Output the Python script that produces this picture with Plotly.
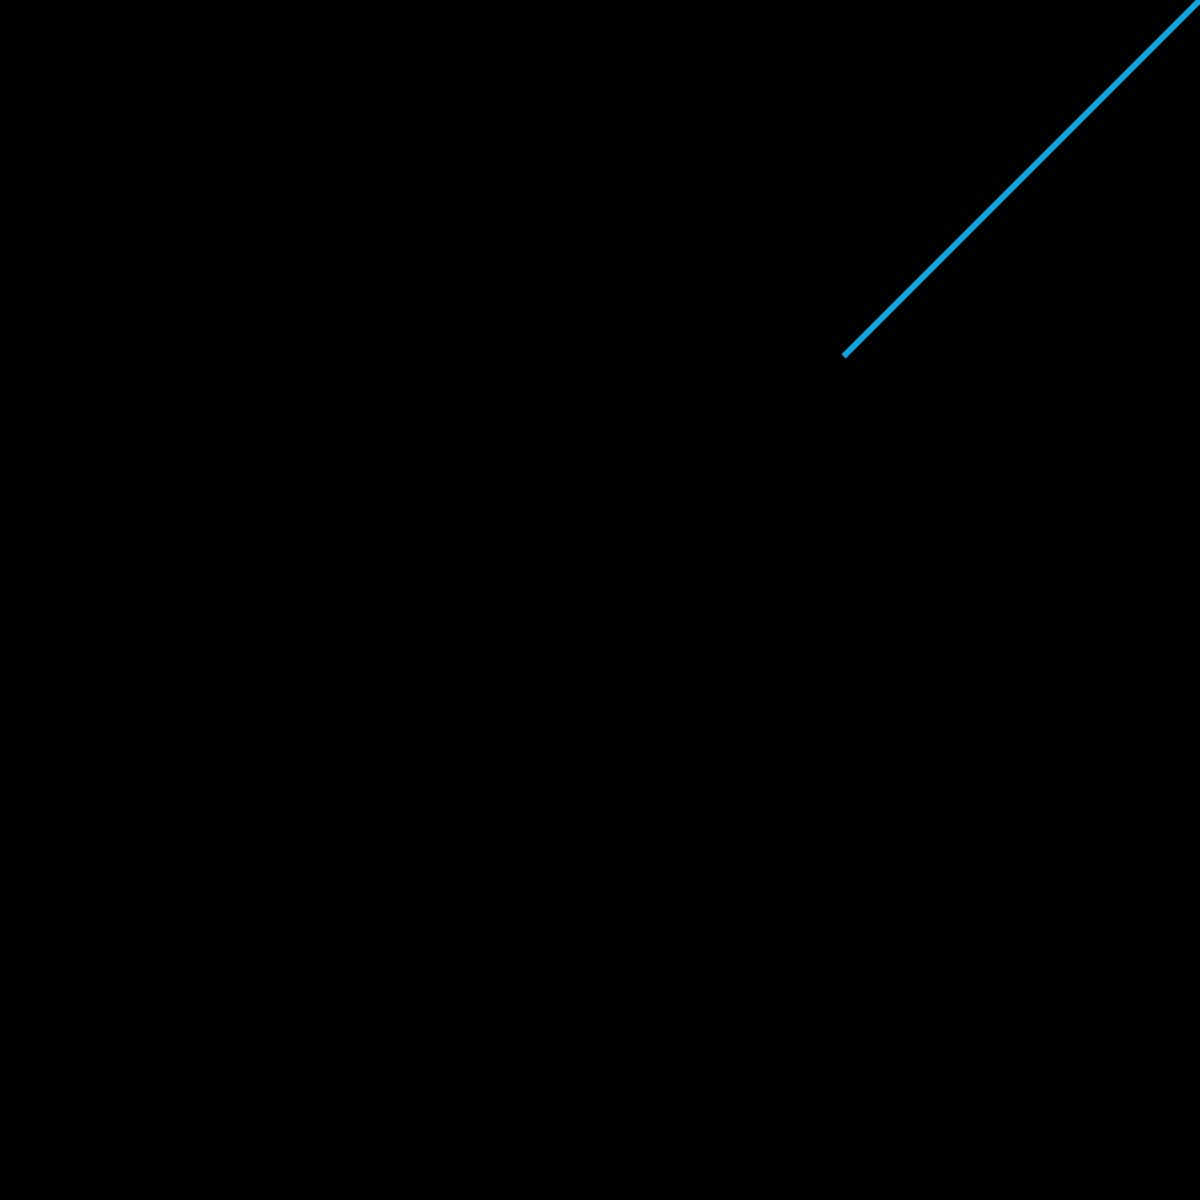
import plotly.graph_objects as go

# one straight segment on a blank black canvas
line_x = [0.703, 1.0]
line_y = [0.703, 1.0]

LINE_COLOR = "#0fa6dd"
BG = "#000000"

fig = go.Figure()
fig.add_trace(
    go.Scatter(
        x=line_x,
        y=line_y,
        mode="lines",
        line={"color": LINE_COLOR, "width": 6},
        hoverinfo="skip",
        showlegend=False,
    )
)

axis = {
    "range": [0, 1],
    "visible": False,
    "showgrid": False,
    "zeroline": False,
    "fixedrange": True,
}
fig.update_layout(
    width=1200,
    height=1200,
    margin={"l": 0, "r": 0, "t": 0, "b": 0, "pad": 0},
    paper_bgcolor=BG,
    plot_bgcolor=BG,
    xaxis=axis,
    yaxis=axis,
    showlegend=False,
)

fig.write_html(
    "out.html",
    config={"displayModeBar": False},
    post_script="document.body.style.margin='0';document.body.style.background='#000';",
)
